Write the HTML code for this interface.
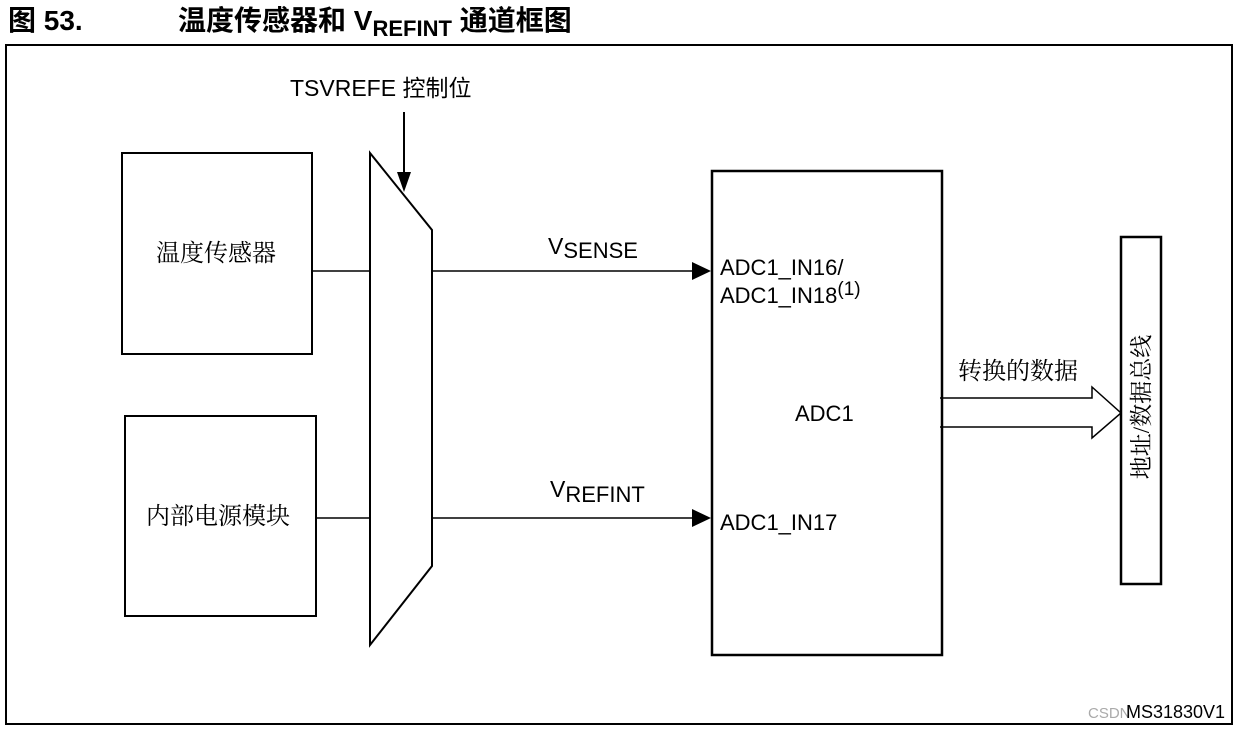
<!DOCTYPE html><html><head><meta charset="utf-8"><style>body{margin:0;background:#fff}svg text{font-family:"Liberation Sans","Noto Sans CJK SC",sans-serif;fill:#000}svg text.s{font-family:"Liberation Serif","Noto Serif CJK SC",serif}</style></head><body>
<svg width="1240" height="730" xmlns="http://www.w3.org/2000/svg">
<text x="8" y="30" font-size="28" font-weight="bold">图 53.</text>
<text x="178" y="30" font-size="28" font-weight="bold">温度传感器和 V<tspan font-size="22" dy="6">REFINT</tspan><tspan dy="-6"> 通道框图</tspan></text>
<rect x="6" y="45" width="1226" height="679" fill="none" stroke="#000" stroke-width="2"/>
<text x="290" y="96" font-size="23">TSVREFE 控制位</text>
<line x1="404" y1="112" x2="404" y2="175" stroke="#000" stroke-width="2"/>
<polygon points="397,172 411,172 404,192" fill="#000"/>
<polygon points="370,153 432,230 432,566 370,645" fill="none" stroke="#000" stroke-width="2"/>
<rect x="122" y="153" width="190" height="201" fill="none" stroke="#000" stroke-width="2"/>
<text class="s" x="216" y="261" font-size="24" text-anchor="middle">温度传感器</text>
<rect x="125" y="416" width="191" height="200" fill="none" stroke="#000" stroke-width="2"/>
<text class="s" x="218" y="524" font-size="24" text-anchor="middle">内部电源模块</text>
<line x1="312" y1="271" x2="370" y2="271" stroke="#000" stroke-width="1.5"/>
<line x1="316" y1="518" x2="370" y2="518" stroke="#000" stroke-width="1.5"/>
<line x1="432" y1="271" x2="695" y2="271" stroke="#000" stroke-width="1.5"/>
<polygon points="692,262 711,271 692,280" fill="#000"/>
<line x1="432" y1="518" x2="695" y2="518" stroke="#000" stroke-width="1.5"/>
<polygon points="692,509 711,518 692,527" fill="#000"/>
<text x="548" y="254" font-size="23">V<tspan font-size="22" dy="4">SENSE</tspan></text>
<text x="550" y="497" font-size="23">V<tspan font-size="22" dy="5">REFINT</tspan></text>
<rect x="712" y="171" width="230" height="484" fill="none" stroke="#000" stroke-width="2.5"/>
<text x="720" y="275" font-size="22">ADC1_IN16/</text>
<text x="720" y="303" font-size="22">ADC1_IN18<tspan font-size="19" dy="-8">(1)</tspan></text>
<text x="795" y="421" font-size="22">ADC1</text>
<text x="720" y="530" font-size="22">ADC1_IN17</text>
<text class="s" x="958" y="379" font-size="24">转换的数据</text>
<polyline points="940,398 1092,398 1092,387 1121,413 1092,438 1092,427 940,427" fill="none" stroke="#000" stroke-width="1.5"/>
<rect x="1121" y="237" width="40" height="347" fill="none" stroke="#000" stroke-width="2.5"/>
<text class="s" transform="translate(1149,407) rotate(-90)" font-size="23" text-anchor="middle">地址/数据总线</text>
<text x="1088" y="718" font-size="15" style="fill:#aaa">CSDN</text>
<text x="1126" y="718" font-size="18">MS31830V1</text>
</svg></body></html>
